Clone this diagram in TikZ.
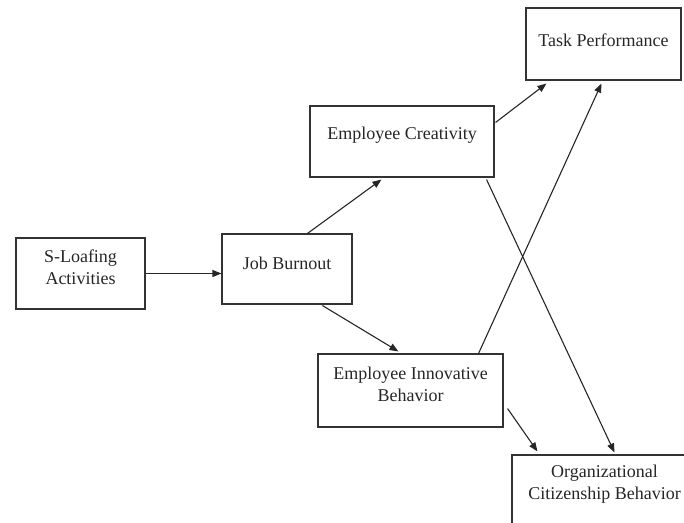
\documentclass[tikz,border=0pt]{standalone}
\usepackage{fontspec}
\setmainfont{Liberation Serif}
\usetikzlibrary{arrows.meta}
\tikzset{
  box/.style={draw=black!80, line width=1.1pt, inner sep=0pt},
  txt/.style={font=\fontsize{18}{22}\selectfont, text=black!85, align=center, inner sep=0pt},
  arr/.style={draw=black!85, line width=1.1pt, -{Triangle[length=9pt,width=7pt]}}
}
\begin{document}
\begin{tikzpicture}[x=1pt,y=-1pt]
\useasboundingbox (0,0) rectangle (684,522);
\clip (0,0) rectangle (684,522);
\node[box, minimum width=129pt, minimum height=71pt, label={[txt,name=slat,yshift=6pt]center:{S-Loafing\\Activities}}] (sla) at (80.5,273.5) {};
\node[box, minimum width=130pt, minimum height=70pt, label={[txt,name=jbt,yshift=6pt]center:{Job Burnout}}] (jb) at (287,269) {};
\node[box, minimum width=184pt, minimum height=71pt, label={[txt,name=ect,yshift=6pt]center:{Employee Creativity}}] (ec) at (402,141.5) {};
\node[box, minimum width=155pt, minimum height=72pt, label={[txt,name=tpt,yshift=4pt]center:{Task Performance}}] (tp) at (603.5,44) {};
\node[box, minimum width=185pt, minimum height=73pt, label={[txt,name=eibt,yshift=6pt]center:{Employee Innovative\\Behavior}}] (eib) at (410.5,390.5) {};
\node[box, minimum width=185pt, minimum height=71pt, label={[txt,name=ocbt,yshift=6pt]center:{Organizational\\Citizenship Behavior}}] (ocb) at (604.5,490.5) {};
\draw[arr] (sla.east) -- (sla.east -| jb.west);
\draw[arr] ([xshift=86pt]jb.north west) -- ([xshift=72pt,yshift=-2pt]ec.south west);
\draw[arr] ([xshift=101pt,yshift=-1pt]jb.south west) -- ([xshift=81pt,yshift=2pt]eib.north west);
\draw[arr] ([xshift=1pt,yshift=-17pt]ec.north east) -- ([xshift=21pt,yshift=-3pt]tp.south west);
\draw[arr] ([xshift=-8pt,yshift=-2pt]ec.south east) -- ([xshift=103pt,yshift=2pt]ocb.north west);
\draw[arr] ([xshift=-25pt]eib.north east) -- ([xshift=76pt,yshift=-3pt]tp.south west);
\draw[arr] ([xshift=4pt,yshift=19pt]eib.south east) -- ([xshift=26pt,yshift=3pt]ocb.north west);
\end{tikzpicture}
\end{document}
